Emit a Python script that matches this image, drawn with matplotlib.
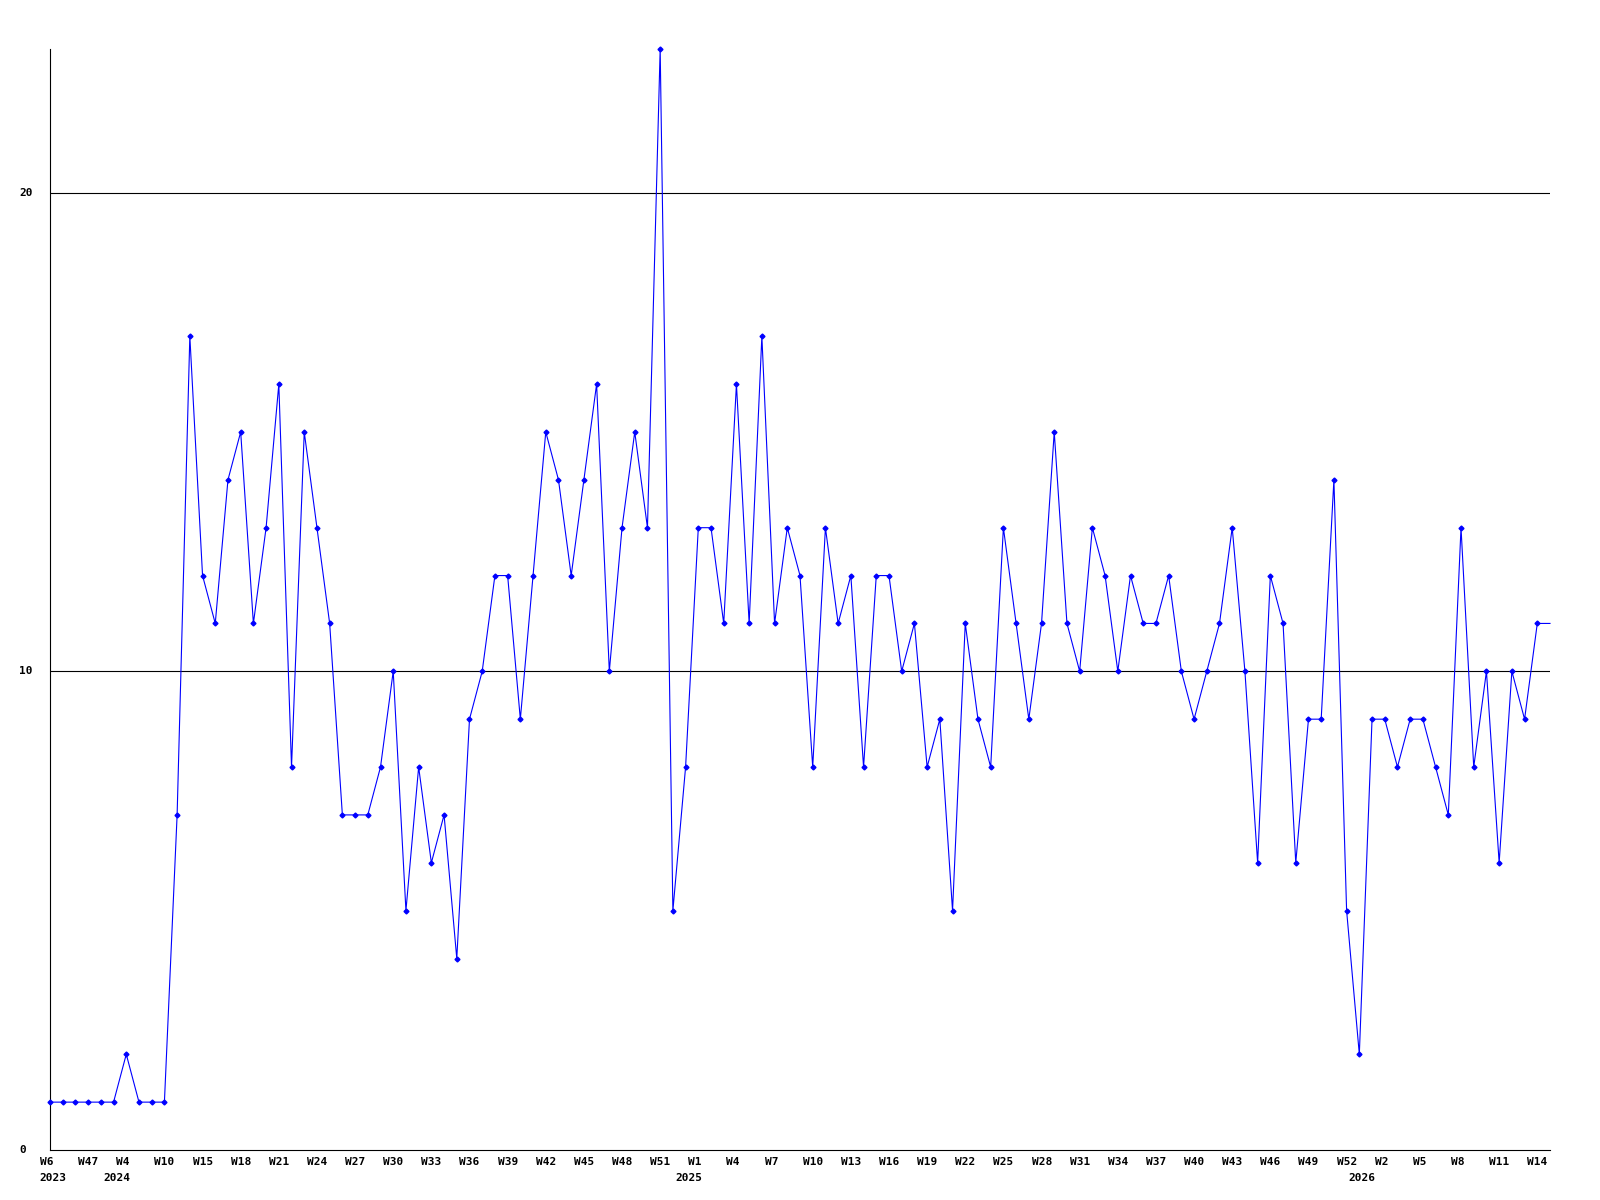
import matplotlib.pyplot as plt
from matplotlib.transforms import ScaledTranslation, blended_transform_factory

# weekly counts, one per point (equal spacing on x)
valores = [1, 1, 1, 1, 1, 1, 2, 1, 1, 1,
           7, 17, 12, 11, 14, 15, 11, 13, 16, 8,
           15, 13, 11, 7, 7, 7, 8, 10, 5, 8,
           6, 7, 4, 9, 10, 12, 12, 9, 12, 15,
           14, 12, 14, 16, 10, 13, 15, 13, 23, 5,
           8, 13, 13, 11, 16, 11, 17, 11, 13, 12,
           8, 13, 11, 12, 8, 12, 12, 10, 11, 8,
           9, 5, 11, 9, 8, 13, 11, 9, 11, 15,
           11, 10, 13, 12, 10, 12, 11, 11, 12, 10,
           9, 10, 11, 13, 10, 6, 12, 11, 6, 9,
           9, 14, 5, 2, 9, 9, 8, 9, 9, 8,
           7, 13, 8, 10, 6, 10, 9, 11, 11]

# label every third point
semanas = ["W6", "W47", "W4", "W10", "W15", "W18", "W21", "W24", "W27", "W30",
           "W33", "W36", "W39", "W42", "W45", "W48", "W51", "W1", "W4", "W7",
           "W10", "W13", "W16", "W19", "W22", "W25", "W28", "W31", "W34", "W37",
           "W40", "W43", "W46", "W49", "W52", "W2", "W5", "W8", "W11", "W14"]

# first point of each year
anios = ["2023", "2024", "2025", "2026"]
anios_idx = [0, 5, 50, 103]

y_ticks = [0, 10, 20]

azul = "#0000ff"
negro = "#000000"
fuente = "DejaVu Sans Mono"

fig = plt.figure(figsize=(16, 12), dpi=100)
fig.patch.set_facecolor("white")
ax = fig.add_axes([50 / 1600, 1 - 1150 / 1200, 1500 / 1600, (1150 - 49) / 1200])

x = list(range(len(valores)))
n = len(valores)
ax.set_xlim(0, n - 1)
ax.set_ylim(0, max(valores))

# grid lines
for v in y_ticks[1:]:
    ax.axhline(v, color=negro, lw=0.8, zorder=1)

ax.plot(x, valores, color=azul, lw=0.8, zorder=3, clip_on=False,
        marker="D", ms=2.5, mec=azul, mfc=azul, markevery=list(range(n - 1)))

for s in ["top", "right"]:
    ax.spines[s].set_visible(False)
for s in ["left", "bottom"]:
    ax.spines[s].set_color(negro)
    ax.spines[s].set_linewidth(0.8)

ax.tick_params(length=0)

# x labels: left aligned, a bit before the point
ticks = list(range(0, n, 3))[:len(semanas)]
ax.set_xticks(ticks)
ax.set_xticklabels(semanas, fontfamily=fuente, fontweight="bold", fontsize=8)
off_x = ScaledTranslation(-10 / 100, -2 / 100, fig.dpi_scale_trans)
for lab in ax.get_xticklabels():
    lab.set_ha("left")
    lab.set_transform(lab.get_transform() + off_x)

trans = blended_transform_factory(ax.transData, ax.transAxes)
off_a = ScaledTranslation(3 / 100, 0, fig.dpi_scale_trans)
for a, i in zip(anios, anios_idx):
    ax.text(i, -28 / 1101, a, transform=trans + off_a, ha="center", va="center",
            fontfamily=fuente, fontweight="bold", fontsize=8, color=negro)

# y labels at the far left
ax.set_yticks([])
trans_y = blended_transform_factory(fig.transFigure, ax.transData)
for v in y_ticks:
    ax.text(19 / 1600, v, str(v), transform=trans_y, ha="left", va="center",
            fontfamily=fuente, fontweight="bold", fontsize=8, color=negro)

fig.savefig("out.png", dpi=100)
